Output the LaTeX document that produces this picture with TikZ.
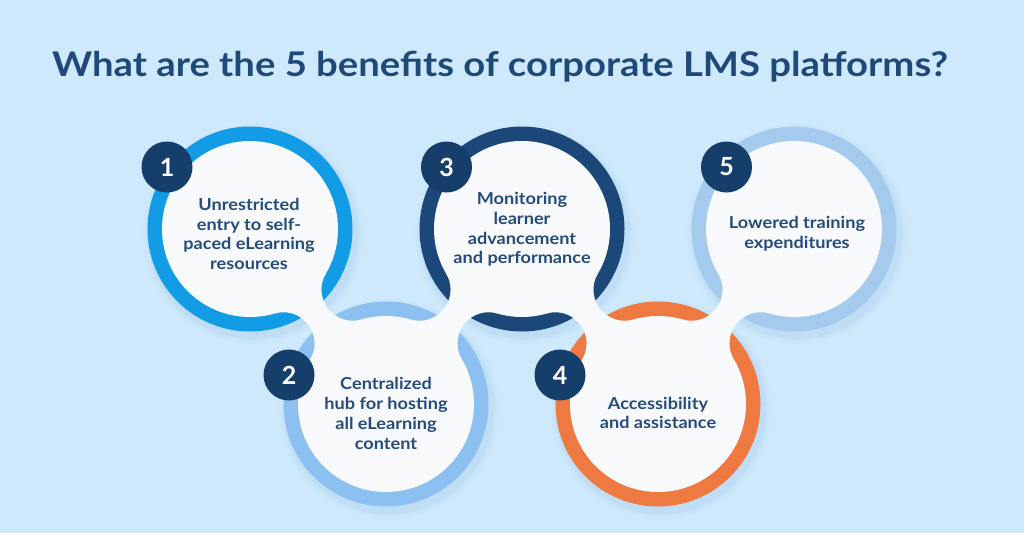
\documentclass[tikz,border=0pt]{standalone}
\usepackage{fontspec}
\setmainfont{Lato}
\newfontfamily\titlefont[FakeStretch=1.125]{Lato}
\newfontfamily\bodyfont[FakeStretch=1.1]{Lato}
\usetikzlibrary{calc}
\definecolor{bg}{RGB}{206,233,252}
\definecolor{ringA}{RGB}{18,156,229}
\definecolor{ringB}{RGB}{140,192,241}
\definecolor{ringC}{RGB}{27,72,121}
\definecolor{ringD}{RGB}{238,122,66}
\definecolor{ringE}{RGB}{164,202,238}
\definecolor{badgec}{RGB}{22,62,106}
\definecolor{titlec}{RGB}{30,73,120}
\definecolor{bodyc}{RGB}{38,76,124}
\definecolor{diskc}{RGB}{248,249,251}
\definecolor{shadc}{RGB}{70,120,180}
\newcommand\myneck[2]{%
  \coordinate (m#1#2) at ($(c#1)!0.5!(c#2)$);
  \coordinate (p#1#2) at ($(m#1#2)!43.9pt!90:(c#2)$);
  \coordinate (q#1#2) at ($(m#1#2)!43.9pt!-90:(c#2)$);
  \begin{scope}
    \clip (c#1) -- (p#1#2) -- (c#2) -- (q#1#2) -- cycle;
    \fill[diskc, even odd rule] ($(m#1#2)+(-200,-200)$) rectangle ($(m#1#2)+(200,200)$)
      (p#1#2) circle (31.2pt) (q#1#2) circle (31.2pt);
  \end{scope}}
\newcommand\myshadow[1]{%
  \foreach \rr/\op in {110/0.025,107/0.035,105/0.045}
    \fill[shadc, opacity=\op] ($(c#1)+(3,5)$) circle (\rr pt);}
\begin{document}
\begin{tikzpicture}[x=1pt,y=-1pt,
  txt/.style={align=center, text=bodyc, inner sep=0pt,
    font=\bodyfont\fontsize{16.5}{19.8}\selectfont\bfseries},
  badge/.style={circle, fill=badgec, text=white, minimum size=51pt, inner sep=0pt,
    font=\fontsize{25}{25}\selectfont\bfseries},
  titlestyle/.style={text=titlec, inner sep=0pt,
    font=\titlefont\fontsize{34}{34}\selectfont\bfseries}]
\useasboundingbox (0,0) rectangle (1024,533);
\fill[bg] (0,0) rectangle (1024,533);

\coordinate (c1) at (250,229);
\coordinate (c2) at (386,404);
\coordinate (c3) at (522,229);
\coordinate (c4) at (658,404);
\coordinate (c5) at (794,229);

% soft shadows
\foreach \i in {1,...,5}{\myshadow{\i}}

% rings
\fill[ringA] (c1) circle (102.5pt);
\fill[ringB] (c2) circle (102.5pt);
\fill[ringC] (c3) circle (102.5pt);
\fill[ringD] (c4) circle (102.5pt);
\fill[ringE] (c5) circle (102.5pt);

% white disks
\foreach \i in {1,...,5}{\fill[diskc] (c\i) circle (88pt);}

% necks
\myneck{1}{2}
\myneck{2}{3}
\myneck{3}{4}
\myneck{4}{5}

% title
\node[titlestyle, anchor=base west] (title) at (52,76)
  {What are the 5 benefits of corporate LMS platforms?};

% texts
\node[txt] (t1) at (249,234) {Unrestricted\\entry to self-\\paced eLearning\\resources};
\node[txt] (t2) at (386,413.5) {Centralized\\hub for hosting\\all eLearning\\content};
\node[txt] (t3) at (522,229.5) {Monitoring\\learner\\advancement\\and performance};
\node[txt] (t4) at (658,413) {Accessibility\\and assistance};
\node[txt] (t5) at (797,233.5) {Lowered training\\expenditures};

% badges
\node[badge] (b1) at (167,167) {1};
\node[badge] (b2) at (289,375) {2};
\node[badge] (b3) at (446.5,167) {3};
\node[badge] (b4) at (560,375) {4};
\node[badge] (b5) at (726.5,167) {5};
\end{tikzpicture}
\end{document}
